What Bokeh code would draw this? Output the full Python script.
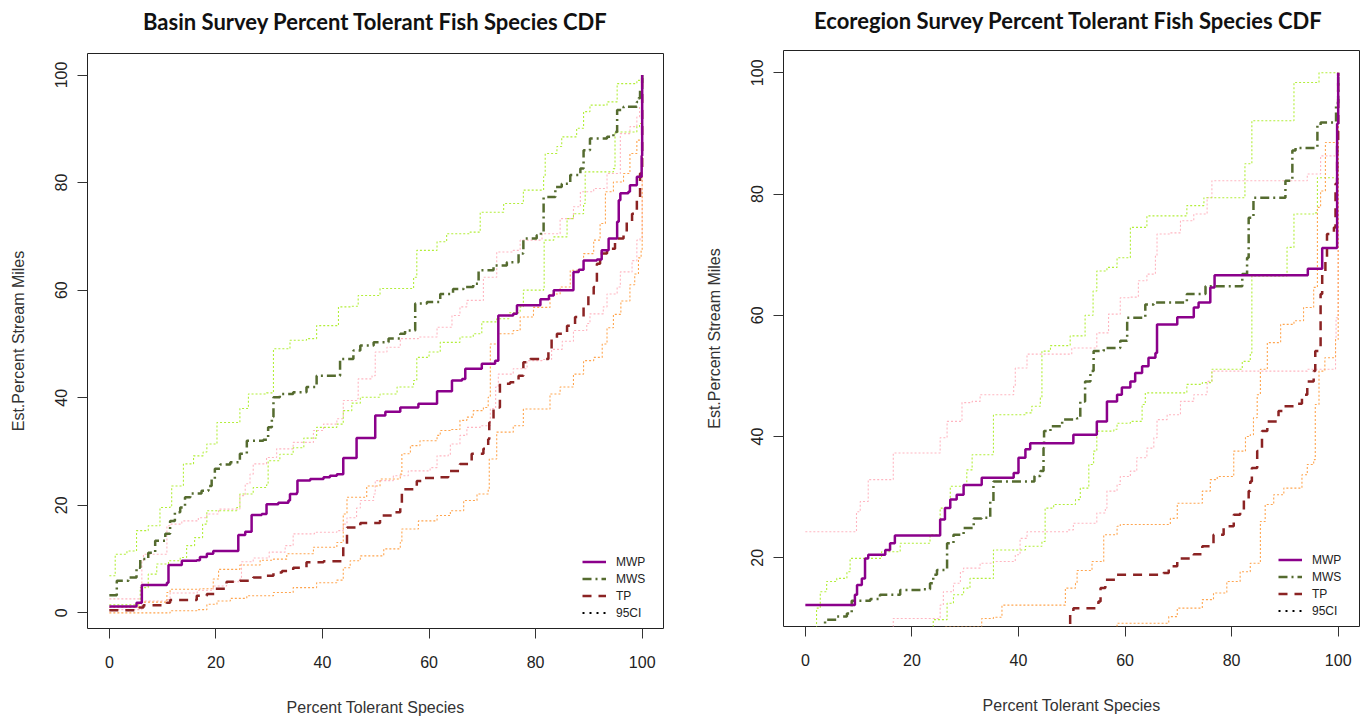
from bokeh.plotting import figure
from bokeh.layouts import row, column
from bokeh.models import FixedTicker, Range1d, Legend, LegendItem
from bokeh.core.properties import value
from bokeh.embed import file_html
from bokeh.resources import INLINE

# ---------------- data: Basin survey (x = percent tolerant species, y = est. percent stream miles)
basin_mwp_x = [0, 5.1, 6.1, 10.8, 11.1, 13.6, 16.4, 17.0, 18.3, 19.5, 24.2, 25.5, 26.7, 28.6, 29.5, 31.7, 33.6, 33.9, 35.2, 35.3, 37.7, 40.2, 41.4, 42.7, 43.9, 46.4, 49.9, 51.8, 54.6, 58.0, 61.5, 64.3, 66.2, 66.8, 69.9, 72.4, 73.0, 75.8, 76.5, 80.9, 82.5, 83.4, 87.1, 88.1, 89.0, 91.5, 92.4, 93.7, 95.3, 95.6, 95.9, 97.4, 97.7, 99.0, 99.9, 100]
basin_mwp_y = [1.2, 1.9, 5.2, 5.6, 8.9, 9.7, 9.8, 10.4, 11.0, 11.5, 14.5, 15.1, 18.2, 18.4, 20.2, 20.5, 20.9, 22.1, 22.4, 24.6, 24.9, 25.2, 25.5, 25.8, 28.8, 32.5, 36.7, 37.4, 38.2, 38.9, 41.2, 43.2, 43.5, 45.4, 46.3, 46.9, 55.3, 55.6, 57.2, 58.3, 59.0, 60.0, 63.4, 63.8, 65.5, 65.7, 67.4, 69.6, 72.7, 76.7, 78.0, 78.3, 79.5, 81.1, 85.0, 100]

basin_mws_x = [0, 1.4, 3.6, 5.1, 5.8, 7.3, 8.6, 10.5, 11.4, 12.3, 13.3, 14.2, 15.2, 17.3, 18.6, 19.2, 19.8, 20.8, 22.7, 24.5, 25.8, 28.9, 29.8, 30.5, 30.8, 32.0, 34.5, 37.0, 38.9, 43.3, 45.8, 47.1, 49.6, 52.4, 54.6, 55.5, 57.4, 59.6, 62.1, 64.5, 66.5, 68.3, 69.3, 72.1, 74.6, 76.8, 77.7, 80.2, 81.0, 81.5, 83.7, 84.9, 86.5, 88.4, 89.0, 90.2, 93.4, 94.6, 95.3, 96.5, 99.0, 99.3, 99.6, 100]
basin_mws_y = [3.3, 6.0, 6.6, 8.4, 10.0, 11.2, 13.4, 14.7, 17.1, 18.7, 19.6, 21.5, 22.2, 22.7, 23.6, 24.9, 26.8, 27.6, 28.0, 29.6, 32.0, 32.2, 34.5, 36.4, 40.1, 40.7, 41.0, 42.0, 44.1, 47.2, 48.8, 49.7, 50.3, 51.0, 51.9, 52.5, 57.5, 57.8, 59.3, 60.2, 60.6, 61.2, 63.7, 64.6, 65.2, 66.8, 69.6, 70.2, 70.8, 77.3, 79.2, 79.8, 81.4, 82.6, 86.0, 88.2, 88.5, 89.4, 93.5, 94.1, 95.0, 95.7, 97.4, 100]

basin_tp_x = [0, 4.8, 6.4, 10.8, 11.4, 16.4, 18.3, 19.8, 22.0, 24.5, 27.0, 28.9, 30.8, 32.4, 34.5, 37.0, 40.2, 43.9, 44.6, 47.1, 50.8, 53.3, 54.6, 54.9, 57.7, 58.9, 62.1, 63.6, 65.8, 68.0, 70.2, 71.1, 71.3, 72.1, 73.3, 75.2, 76.8, 77.7, 79.0, 82.4, 83.0, 84.0, 85.9, 87.4, 89.0, 89.9, 90.9, 91.5, 92.1, 93.4, 94.9, 96.5, 97.1, 98.1, 99.0, 99.6, 100]
basin_tp_y = [0.5, 1.0, 1.4, 1.9, 2.4, 3.2, 3.5, 4.5, 5.8, 6.0, 6.6, 6.9, 7.5, 7.8, 8.4, 9.4, 9.6, 12.8, 15.9, 16.7, 18.1, 18.7, 19.6, 23.0, 24.5, 25.1, 25.2, 26.4, 27.7, 29.6, 30.5, 32.3, 35.4, 38.2, 42.6, 42.9, 44.1, 46.6, 47.2, 48.8, 51.0, 51.9, 53.4, 55.0, 56.8, 59.0, 60.6, 64.9, 66.8, 67.7, 69.6, 70.8, 72.7, 74.2, 76.7, 81.7, 100]

basin_mwp_lo_x = [0, 6.1, 10.8, 11.4, 16.5, 19.5, 22.0, 24.5, 24.8, 27.0, 30.0, 33.0, 34.5, 38.5, 42.7, 43.9, 44.6, 46.4, 47.1, 49.6, 49.9, 53.3, 56.1, 60.2, 61.5, 63.6, 64.0, 65.8, 67.1, 69.6, 71.5, 72.5, 73.0, 75.8, 78.4, 81.2, 83.0, 85.0, 87.1, 89.6, 90.2, 92.7, 93.4, 95.3, 95.9, 98.1, 99.0, 99.6, 100]
basin_mwp_lo_y = [0.6, 2.2, 2.5, 3.7, 4.2, 5.0, 5.8, 6.3, 9.5, 10.2, 11.3, 12.5, 14.7, 15.0, 15.3, 16.5, 17.7, 19.5, 20.9, 22.1, 24.6, 25.5, 26.4, 27.0, 29.2, 29.4, 31.4, 33.0, 34.5, 34.8, 38.0, 42.0, 44.4, 45.4, 46.9, 47.1, 49.0, 50.5, 52.5, 53.8, 55.6, 56.9, 59.3, 60.6, 63.4, 65.5, 69.3, 69.6, 100]

basin_mwp_hi_x = [0, 6.1, 6.4, 10.8, 11.4, 13.6, 16.7, 18.3, 20.5, 24.5, 25.5, 26.4, 27.0, 29.5, 31.4, 34.5, 38.3, 40.2, 42.7, 43.9, 46.4, 46.7, 49.3, 49.9, 52.1, 54.6, 58.0, 61.5, 64.3, 65.8, 67.1, 70.2, 72.7, 75.8, 77.1, 81.2, 84.6, 87.1, 88.4, 90.9, 93.4, 95.9, 97.7, 99.0, 99.5, 100]
basin_mwp_hi_y = [2.6, 9.7, 10.9, 16.2, 16.5, 17.1, 17.7, 18.4, 19.3, 21.8, 24.0, 25.8, 27.7, 28.9, 30.5, 31.7, 33.9, 35.1, 36.1, 39.5, 39.8, 43.5, 44.1, 48.5, 49.4, 51.0, 51.3, 53.1, 55.3, 56.9, 58.1, 62.4, 67.1, 67.4, 69.3, 70.5, 73.3, 75.5, 78.3, 78.9, 81.7, 89.1, 90.4, 92.2, 94.1, 100]

basin_mws_lo_x = [0, 5.8, 7.3, 8.9, 11.1, 13.3, 14.5, 16.0, 17.5, 18.3, 23.9, 24.5, 27.0, 29.5, 29.8, 32.0, 34.5, 36.5, 38.9, 42.7, 43.9, 45.5, 47.1, 50.8, 54.0, 57.1, 57.7, 60.0, 62.1, 65.8, 68.3, 69.9, 72.7, 75.0, 77.1, 77.7, 81.5, 81.6, 83.4, 85.9, 87.1, 89.0, 89.3, 94.6, 94.9, 99.0, 99.5, 100]
basin_mws_lo_y = [1.5, 4.7, 7.2, 9.1, 9.7, 10.3, 12.5, 14.0, 16.5, 19.0, 19.6, 22.1, 23.3, 23.8, 28.3, 29.5, 30.7, 32.5, 34.5, 35.1, 37.6, 39.0, 40.1, 40.7, 42.0, 43.2, 47.5, 48.5, 50.3, 51.3, 51.9, 54.1, 54.7, 55.8, 56.9, 60.0, 60.3, 69.3, 69.9, 73.3, 74.2, 76.1, 82.0, 82.6, 89.4, 90.4, 91.0, 100]

basin_mws_hi_x = [0, 1.1, 3.3, 5.1, 7.3, 9.5, 11.4, 11.7, 13.9, 15.8, 17.6, 18.3, 20.2, 24.5, 26.1, 29.5, 30.8, 33.9, 37.0, 38.9, 43.0, 45.5, 46.7, 50.8, 57.1, 57.7, 61.5, 63.3, 67.7, 69.6, 74.0, 77.7, 81.5, 81.8, 84.0, 84.9, 87.7, 89.0, 90.2, 93.4, 95.3, 99.0, 100]
basin_mws_hi_y = [6.9, 10.9, 11.5, 15.3, 16.2, 19.6, 19.9, 23.6, 27.7, 29.2, 29.9, 31.4, 35.4, 38.0, 40.7, 40.9, 49.1, 50.7, 51.0, 53.4, 56.9, 57.0, 59.0, 60.3, 62.4, 67.4, 69.0, 70.5, 70.8, 74.5, 76.1, 78.6, 81.1, 85.4, 86.7, 88.5, 90.1, 93.2, 94.4, 95.0, 98.4, 99.0, 100]

basin_tp_lo_x = [0, 11.4, 16.4, 18.3, 20.2, 22.7, 25.8, 30.8, 34.5, 38.9, 42.7, 43.9, 45.2, 47.1, 51.5, 54.6, 54.9, 58.0, 61.5, 64.0, 66.5, 69.0, 71.1, 71.3, 72.7, 75.8, 77.7, 82.7, 84.6, 87.1, 89.0, 90.9, 92.5, 93.4, 94.6, 96.0, 97.7, 98.6, 99.3, 99.8, 100]
basin_tp_lo_y = [0.0, 0.4, 0.6, 1.6, 2.2, 2.7, 3.2, 3.8, 4.7, 5.6, 6.1, 8.4, 9.7, 10.6, 11.9, 13.1, 15.6, 17.1, 18.1, 19.0, 20.9, 22.1, 23.0, 28.6, 33.6, 34.8, 37.9, 40.7, 42.0, 44.4, 46.9, 47.5, 50.0, 53.0, 55.5, 58.0, 61.0, 63.0, 66.0, 67.5, 100]

basin_tp_hi_x = [0, 5.5, 10.8, 11.4, 17.0, 19.5, 20.5, 24.5, 28.3, 30.8, 33.3, 38.3, 42.7, 43.9, 44.6, 48.3, 50.8, 54.6, 54.9, 56.5, 58.3, 61.5, 62.1, 64.0, 65.8, 67.1, 68.3, 70.2, 71.1, 71.5, 73.0, 75.8, 77.1, 79.6, 82.7, 84.6, 86.5, 89.0, 90.9, 92.1, 93.1, 94.6, 96.5, 97.7, 99.0, 100]
basin_tp_hi_y = [1.0, 2.0, 3.8, 4.4, 4.5, 6.3, 8.1, 8.9, 9.8, 10.0, 11.0, 12.2, 13.1, 18.4, 21.5, 23.6, 24.9, 25.8, 29.6, 31.1, 32.0, 33.0, 33.9, 34.1, 35.8, 36.4, 37.6, 38.2, 40.1, 50.0, 51.9, 52.5, 55.0, 56.8, 59.3, 60.6, 63.7, 66.8, 69.3, 72.4, 78.3, 80.1, 81.7, 85.4, 87.9, 100]

# ---------------- data: Ecoregion survey
eco_mwp_x = [0, 9.3, 9.7, 10.6, 11.2, 11.8, 15.0, 15.9, 16.8, 25.3, 26.2, 27.2, 28.4, 29.7, 33.1, 39.1, 40.0, 41.3, 42.2, 50.3, 54.7, 56.6, 58.5, 59.4, 61.0, 61.9, 63.2, 64.4, 65.7, 66.0, 69.8, 72.9, 73.8, 76.0, 76.8, 94.3, 97.0, 99.8, 100]
eco_mwp_y = [12.2, 13.9, 15.5, 16.6, 19.9, 20.5, 21.3, 22.4, 23.7, 26.3, 28.2, 29.6, 30.4, 32.0, 33.2, 34.0, 36.5, 37.9, 38.9, 40.3, 42.5, 45.8, 46.9, 48.1, 49.1, 50.5, 51.6, 53.0, 53.8, 58.5, 59.7, 61.3, 62.1, 64.6, 66.6, 67.7, 71.1, 91.6, 100]

eco_mws_x = [0, 1.5, 3.1, 3.7, 5.9, 7.8, 8.7, 12.2, 14.0, 17.8, 21.9, 23.4, 24.0, 24.7, 26.6, 27.8, 29.7, 31.6, 33.1, 34.7, 35.3, 43.0, 44.1, 44.7, 44.8, 46.0, 48.2, 51.0, 51.6, 52.5, 53.5, 54.1, 56.0, 59.1, 60.4, 63.8, 65.4, 71.6, 75.1, 82.0, 82.9, 83.2, 84.1, 90.1, 91.4, 92.0, 96.1, 96.7, 99.6, 100]
eco_mws_y = [4.0, 5.5, 8.4, 9.8, 10.3, 10.8, 12.9, 13.2, 13.9, 14.7, 14.8, 15.8, 17.2, 18.0, 22.4, 23.8, 24.9, 26.5, 26.6, 29.3, 32.6, 33.5, 34.3, 38.1, 40.9, 41.7, 42.8, 43.0, 45.8, 49.1, 50.8, 54.1, 54.6, 55.8, 59.6, 61.8, 62.1, 63.5, 64.8, 66.8, 69.5, 76.1, 79.4, 82.2, 87.2, 87.6, 91.3, 91.8, 95.0, 100]

eco_tp_x = [0, 40.0, 45.0, 48.5, 49.7, 50.3, 55.0, 55.4, 56.3, 58.5, 67.2, 68.2, 69.8, 72.9, 74.5, 76.6, 78.5, 80.4, 81.6, 82.3, 83.2, 83.5, 83.8, 84.8, 85.7, 86.7, 88.8, 89.8, 92.0, 93.2, 94.2, 95.4, 95.7, 96.7, 97.0, 97.6, 97.9, 99.2, 99.5, 99.8, 100]
eco_tp_y = [0.0, 2.0, 5.0, 8.4, 10.6, 11.7, 12.8, 15.0, 16.4, 17.2, 17.5, 18.6, 19.9, 20.6, 21.9, 23.8, 25.2, 27.1, 27.9, 29.6, 31.0, 32.6, 34.8, 37.6, 40.9, 42.5, 44.2, 45.0, 45.4, 46.9, 49.1, 50.8, 54.1, 63.5, 66.8, 69.5, 73.4, 74.5, 81.7, 88.8, 100]

eco_mwp_lo_x = [0, 10.0, 14.0, 15.0, 16.5, 25.3, 25.9, 27.8, 29.1, 29.7, 32.8, 35.3, 39.4, 40.3, 41.6, 49.4, 50.3, 54.7, 56.3, 56.6, 58.5, 59.1, 61.0, 62.2, 64.1, 65.4, 66.0, 67.9, 70.4, 72.9, 75.4, 76.3, 94.2, 99.5, 99.6, 100]
eco_mwp_lo_y = [0.0, 3.0, 7.0, 8.4, 10.0, 12.2, 14.4, 15.8, 17.7, 18.3, 19.1, 19.4, 20.5, 23.2, 24.3, 24.6, 25.7, 27.4, 28.2, 31.0, 32.1, 33.4, 34.3, 36.5, 38.1, 39.8, 42.8, 43.6, 45.8, 46.9, 49.1, 50.8, 51.1, 56.0, 59.6, 100]

eco_mwp_hi_x = [0, 9.6, 10.3, 11.8, 16.5, 25.3, 26.6, 29.4, 31.3, 32.8, 39.1, 39.4, 41.6, 50.0, 54.7, 56.9, 59.1, 61.0, 62.5, 64.1, 65.7, 66.0, 68.5, 70.4, 72.9, 75.4, 76.3, 94.2, 96.7, 100]
eco_mwp_hi_y = [24.3, 27.6, 29.3, 32.9, 37.3, 39.8, 42.5, 45.6, 45.8, 46.9, 48.3, 51.3, 53.6, 54.6, 57.1, 60.2, 62.9, 63.0, 65.7, 66.8, 69.8, 73.4, 73.6, 75.6, 76.7, 79.4, 82.2, 83.3, 86.3, 100]

eco_mws_lo_x = [0, 15.0, 20.0, 23.4, 24.0, 26.6, 27.8, 29.7, 30.9, 35.3, 41.3, 44.4, 45.0, 46.6, 50.7, 51.6, 53.2, 54.1, 54.7, 57.9, 58.5, 61.0, 63.2, 63.8, 71.6, 74.5, 76.3, 82.0, 83.5, 83.8, 90.4, 91.7, 95.4, 96.1, 100]
eco_mws_lo_y = [0.0, 2.0, 5.0, 8.4, 9.8, 12.5, 13.9, 15.0, 16.6, 21.3, 21.9, 22.7, 28.2, 28.8, 29.6, 31.5, 35.4, 37.6, 40.9, 41.2, 42.2, 42.5, 45.3, 47.2, 48.6, 48.9, 51.1, 52.4, 53.8, 66.5, 71.2, 76.7, 76.9, 82.7, 100]

eco_mws_hi_x = [0, 1.8, 2.1, 2.8, 4.0, 5.9, 7.8, 8.4, 14.3, 17.8, 23.4, 25.3, 27.2, 30.3, 31.3, 35.3, 41.3, 42.5, 44.1, 44.4, 46.0, 49.7, 52.5, 54.0, 54.7, 56.6, 58.5, 61.0, 64.1, 71.6, 74.8, 82.5, 83.8, 89.5, 91.7, 96.4, 100]
eco_mws_hi_y = [5.0, 8.4, 11.7, 14.4, 16.1, 16.6, 17.7, 19.9, 21.0, 22.4, 23.8, 28.2, 31.8, 34.5, 37.0, 43.6, 43.9, 45.0, 46.4, 54.1, 55.0, 56.6, 60.0, 64.0, 67.3, 67.9, 69.5, 74.5, 76.4, 78.1, 79.4, 85.0, 92.1, 92.1, 98.4, 100, 100]

eco_tp_lo_x = [0, 30.0, 50.0, 56.3, 58.5, 68.2, 69.8, 74.5, 76.6, 79.1, 81.6, 83.5, 85.4, 86.3, 87.9, 89.8, 93.2, 94.2, 95.4, 95.7, 96.4, 97.5, 99.5, 100]
eco_tp_lo_y = [0.0, 2.0, 5.0, 8.4, 9.2, 10.3, 11.7, 13.1, 14.2, 16.1, 17.7, 19.1, 26.0, 28.8, 30.4, 31.5, 33.7, 35.4, 36.2, 45.3, 50.8, 53.0, 56.0, 100]

eco_tp_hi_x = [0, 15.0, 22.0, 26.2, 33.1, 35.3, 36.9, 48.8, 50.7, 51.0, 53.8, 56.0, 58.5, 59.1, 68.5, 69.8, 74.5, 76.0, 77.3, 80.4, 82.6, 83.5, 84.1, 84.8, 85.4, 86.7, 89.2, 91.7, 93.5, 95.4, 96.1, 96.7, 97.6, 99.2, 100]
eco_tp_hi_y = [0.0, 3.0, 6.0, 8.6, 10.0, 10.2, 12.2, 15.0, 15.8, 17.9, 19.4, 23.8, 25.2, 25.5, 26.5, 29.0, 31.0, 32.9, 33.4, 37.6, 40.0, 40.3, 43.1, 46.9, 51.1, 55.5, 58.5, 59.1, 61.3, 64.6, 77.8, 80.5, 88.5, 88.5, 100]

x_ticks = [0, 20, 40, 60, 80, 100]
y_ticks = [0, 20, 40, 60, 80, 100]
legend_labels = ["MWP", "MWS", "TP", "95CI"]
x_label = "Percent Tolerant Species"
y_label = "Est.Percent Stream Miles"
titles = ["Basin Survey Percent Tolerant Fish Species CDF",
          "Ecoregion Survey Percent Tolerant Fish Species CDF"]

# ---------------- styles
MWP_C = "#8B008B"
MWS_C = "#556B2F"
TP_C = "#8B2323"
MWP_CI = "#FFB6C1"
MWS_CI = "#B3EE3A"
TP_CI = "#FFA54F"
FONT = "Liberation Sans"
TFONT = "Lato"
FRAME_W = 576


def title_strip(text, width, height, cx, cy):
    # the strip's frame is aligned (by the column layout) with the plot frame below it,
    # so x is measured in pixels from the plot frame's left edge
    t = figure(width=width, height=height, x_range=Range1d(0, FRAME_W), y_range=Range1d(0, height),
               output_backend="svg", toolbar_location=None, x_axis_location=None, y_axis_location=None,
               min_border=0, min_border_left=0, min_border_right=0, min_border_top=0, min_border_bottom=0)
    t.title = None
    t.xgrid.visible = False
    t.ygrid.visible = False
    t.outline_line_color = None
    t.background_fill_color = "white"
    t.border_fill_color = "white"
    t.text(x=[cx], y=[height - cy], text=[text], text_align="center", text_baseline="middle",
           text_font=value(TFONT), text_font_size="22px", text_font_style="bold", text_color="#111111")
    return t


def panel(xr, yr, fw, fh, borders, data):
    bl, br, bb = borders
    p = figure(frame_width=fw, frame_height=fh, x_range=Range1d(*xr), y_range=Range1d(*yr),
               output_backend="svg", toolbar_location=None,
               min_border_left=bl, min_border_right=br, min_border_top=0, min_border_bottom=bb)
    p.title = None
    p.xgrid.visible = False
    p.ygrid.visible = False
    p.outline_line_color = "#222222"
    p.outline_line_width = 1
    p.background_fill_color = "white"
    p.border_fill_color = "white"
    p.xaxis.ticker = FixedTicker(ticks=x_ticks)
    p.yaxis.ticker = FixedTicker(ticks=y_ticks)
    p.xaxis.axis_label = x_label
    p.yaxis.axis_label = y_label
    p.yaxis.major_label_orientation = "vertical"
    for ax in (p.xaxis[0], p.yaxis[0]):
        ax.axis_line_color = None
        ax.major_tick_out = 10
        ax.major_tick_in = 0
        ax.major_tick_line_color = "#333333"
        ax.minor_tick_line_color = None
        ax.major_label_text_font = FONT
        ax.major_label_text_font_size = "16px"
        ax.major_label_text_color = "#222222"
        ax.axis_label_text_font = FONT
        ax.axis_label_text_font_size = "16px"
        ax.axis_label_text_font_style = "normal"
        ax.axis_label_text_color = "#333333"
    p.xaxis.major_label_standoff = 17
    p.yaxis.major_label_standoff = 10
    p.xaxis.axis_label_standoff = 28
    p.yaxis.axis_label_standoff = 26

    (mwp, mws, tp, mwp_lo, mwp_hi, mws_lo, mws_hi, tp_lo, tp_hi) = data
    for (xs, ys), col in ((mwp_lo, MWP_CI), (mwp_hi, MWP_CI), (mws_lo, MWS_CI), (mws_hi, MWS_CI),
                          (tp_lo, TP_CI), (tp_hi, TP_CI)):
        p.step(xs, ys, mode="after", line_color=col, line_width=1.1, line_dash="2 2")
    r_tp = p.step(tp[0], tp[1], mode="after", line_color=TP_C, line_width=2.5, line_dash="9 7")
    r_mws = p.step(mws[0], mws[1], mode="after", line_color=MWS_C, line_width=2.5, line_dash="9 4 2 4")
    r_mwp = p.step(mwp[0], mwp[1], mode="after", line_color=MWP_C, line_width=2.5)
    # legend-only sample for the 95% CI style (kept outside the visible range)
    r_ci = p.line([-50, -40], [-50, -50], line_color="black", line_width=2, line_dash="2 5")

    legend = Legend(items=[LegendItem(label=legend_labels[0], renderers=[r_mwp]),
                           LegendItem(label=legend_labels[1], renderers=[r_mws]),
                           LegendItem(label=legend_labels[2], renderers=[r_tp]),
                           LegendItem(label=legend_labels[3], renderers=[r_ci])],
                    location=(fw - 81, 7), border_line_color=None, background_fill_alpha=0,
                    label_text_font=FONT, label_text_font_size="12px", label_text_color="#222222",
                    glyph_width=24, glyph_height=17, label_height=17, spacing=0,
                    padding=7, margin=0, label_standoff=10)
    p.add_layout(legend)
    return p


basin_data = ((basin_mwp_x, basin_mwp_y), (basin_mws_x, basin_mws_y), (basin_tp_x, basin_tp_y),
              (basin_mwp_lo_x, basin_mwp_lo_y), (basin_mwp_hi_x, basin_mwp_hi_y),
              (basin_mws_lo_x, basin_mws_lo_y), (basin_mws_hi_x, basin_mws_hi_y),
              (basin_tp_lo_x, basin_tp_lo_y), (basin_tp_hi_x, basin_tp_hi_y))
eco_data = ((eco_mwp_x, eco_mwp_y), (eco_mws_x, eco_mws_y), (eco_tp_x, eco_tp_y),
            (eco_mwp_lo_x, eco_mwp_lo_y), (eco_mwp_hi_x, eco_mwp_hi_y),
            (eco_mws_lo_x, eco_mws_lo_y), (eco_mws_hi_x, eco_mws_hi_y),
            (eco_tp_lo_x, eco_tp_lo_y), (eco_tp_hi_x, eco_tp_hi_y))

W1, W2 = 87 + FRAME_W + 21, 99 + FRAME_W + 8
t1 = title_strip(titles[0], W1, 53, 288, 21)
p1 = panel((-4.1, 104.0), (-2.9, 104.0), FRAME_W, 575, (87, 21, 90), basin_data)
t2 = title_strip(titles[1], W2, 50, 285, 20)
p2 = panel((-4.1, 104.0), (8.67, 103.68), FRAME_W, 576, (99, 8, 93), eco_data)

layout = row(column(t1, p1), column(t2, p2))
open("out.html", "w").write(file_html(layout, INLINE))
